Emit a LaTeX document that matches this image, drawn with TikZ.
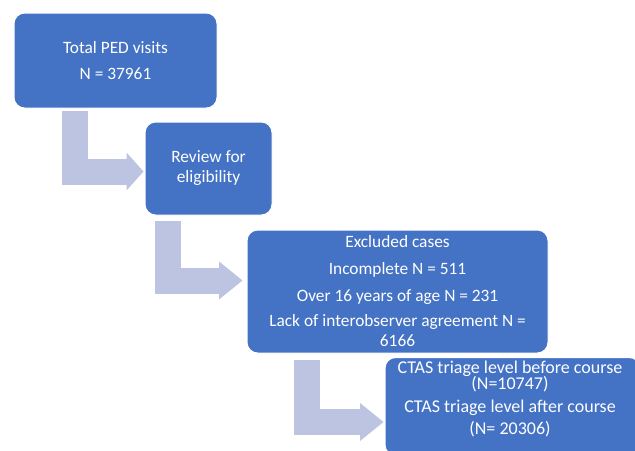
\documentclass[tikz,border=0pt]{standalone}
\usepackage{fontspec}
\setmainfont{Carlito}
\usetikzlibrary{arrows.meta,calc}
\definecolor{boxblue}{RGB}{68,114,196}
\definecolor{arrowlav}{RGB}{188,196,226}
\begin{document}
\begin{tikzpicture}[x=0.75pt,y=-0.75pt,
  box/.style={draw=white, line width=0.75pt, fill=boxblue, rounded corners=8pt,
    text=white, align=center, font=\fontsize{13pt}{15pt}\selectfont, inner sep=0pt},
  txt/.style={text=white, align=center, font=\fontsize{13.5pt}{15pt}\selectfont, inner sep=0pt},
  flow/.style={draw=arrowlav, line width=19.5pt,
    -{Triangle[width=28.5pt,length=#1,line width=0pt]}},
  flow/.default=17.6pt]
\useasboundingbox (0,0) rectangle (635,450);
\node[box, minimum width=152.25pt, minimum height=71.25pt] (b1) at (115.5,60.5)
  {Total PED visits\\[4.5pt]N = 37961};
\node[box, minimum width=95.25pt, minimum height=69.75pt] (b2) at (208.5,168.5)
  {Review for\\eligibility};
\node[box, minimum width=225.75pt, minimum height=92.25pt] (b3) at (397.5,291.5)
  {Excluded cases\\[5.25pt]Incomplete N = 511\\[5.25pt]Over 16 years of age N = 231\\[3.75pt]Lack of interobserver agreement N =\\6166};
\node[box, minimum width=191.25pt, minimum height=73.5pt, anchor=north] (b4) at (512.5,357) {};
\node[txt] (t4) at (510,399)
  {CTAS triage level before course\\[-3pt](N=10747)\\[2pt]CTAS triage level after course\\[2pt](N= 20306)};
\draw[flow=12.75pt] ($(b1.south west)+(61.5,2)$) |- ($(b2.west)+(-1,3)$);
\draw[flow] ($(b2.south west)+(23.5,5)$) |- ($(b3.west)+(-4,-11)$);
\draw[flow] ($(b3.south west)+(60.5,6)$) |- ($(b4.west)+(-1,15.5)$);
\end{tikzpicture}
\end{document}
